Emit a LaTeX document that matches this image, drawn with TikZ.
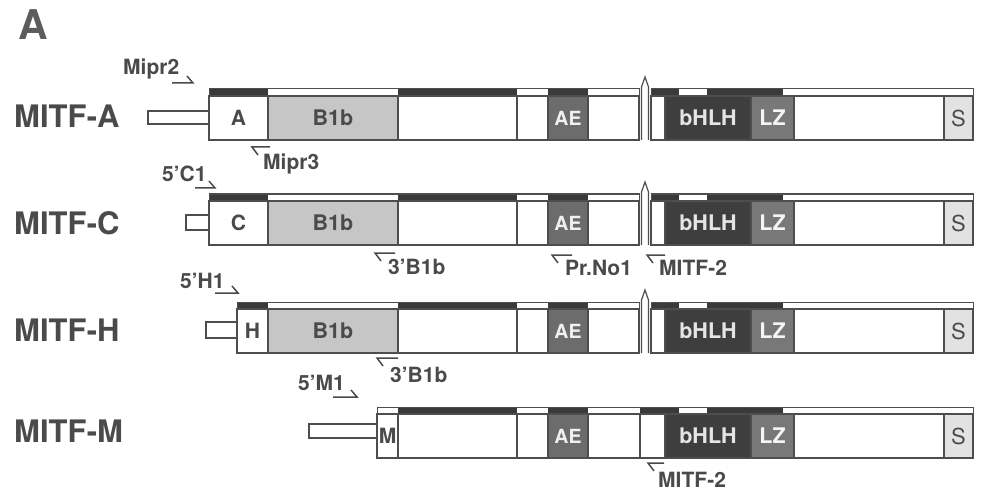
\documentclass[tikz,border=0pt]{standalone}
\usepackage{fontspec}
\setmainfont{TeX Gyre Heros}
\definecolor{ol}{HTML}{4E4E4E}
\definecolor{txt}{HTML}{4A4A4A}
\definecolor{darkbar}{HTML}{3A3A3A}
\definecolor{bonebc}{HTML}{C6C6C6}
\definecolor{aec}{HTML}{6C6C6C}
\definecolor{bhc}{HTML}{3E3E3E}
\definecolor{lzc}{HTML}{787878}
\definecolor{sc}{HTML}{E2E2E2}
\tikzset{
  seg/.style={draw=ol, line width=1.2pt, inner sep=0pt, outer sep=0pt, anchor=north west,
    text=txt, font=\bfseries\fontsize{21}{21}\selectfont},
  plain/.style={fill=white},
  bone/.style={fill=bonebc, font=\bfseries\fontsize{21.5}{21.5}\selectfont},
  aes/.style={fill=aec, text=white!94!black, font=\bfseries\fontsize{19.5}{19.5}\selectfont},
  bhs/.style={fill=bhc, text=white!90!black, font=\bfseries\fontsize{21.5}{21.5}\selectfont},
  lzs/.style={fill=lzc, text=white!96!black, font=\bfseries\fontsize{21.5}{21.5}\selectfont},
  ss/.style={fill=sc, font=\fontsize{22}{22}\selectfont},
  rowlbl/.style={anchor=base west, inner sep=0pt, text=txt, font=\bfseries\fontsize{31}{31}\selectfont},
  prlbl/.style={anchor=base west, inner sep=0pt, text=txt, font=\bfseries\fontsize{21}{21}\selectfont},
  primer/.style={draw=txt, line width=1.5pt},
  barline/.style={draw=ol, line width=1.0pt},
  darkseg/.style={fill=darkbar},
  pent/.style={draw=ol, line width=1.2pt, fill=white},
}
\newcommand\segbox[7]{\node[seg,#6,minimum width={(#3-#2)*1pt},minimum height={(#5-#4)*1pt}] (#1) at (#2,#4) {#7};}
% common right part: #1 prefix, #2 box top, #3 box bottom, #4 end of w3, #5 start of w4
\newcommand\commonright[5]{%
  \segbox{#1w1}{398}{517}{#2}{#3}{plain}{}
  \segbox{#1w2}{517}{548}{#2}{#3}{plain}{}
  \segbox{#1ae}{548}{588}{#2}{#3}{aes}{AE}
  \segbox{#1w3}{588}{#4}{#2}{#3}{plain}{}
  \segbox{#1w4}{#5}{665}{#2}{#3}{plain}{}
  \segbox{#1bh}{665}{751}{#2}{#3}{bhs}{bHLH}
  \segbox{#1lz}{751}{794}{#2}{#3}{lzs}{LZ}
  \segbox{#1w5}{794}{944}{#2}{#3}{plain}{}
  \segbox{#1s}{944}{973}{#2}{#3}{ss}{S}
}
% bar with gap: #1 bar top, #2 left x
\newcommand\gapbar[2]{%
  \fill[white] (#2,#1) rectangle (639,#1+7);
  \fill[white] (651,#1) rectangle (973,#1+7);
  \fill[darkseg] (#2,#1) rectangle (268,#1+7);
  \fill[darkseg] (398,#1) rectangle (517,#1+7);
  \fill[darkseg] (548,#1) rectangle (588,#1+7);
  \fill[darkseg] (651,#1) rectangle (679,#1+7);
  \fill[darkseg] (707,#1) rectangle (783,#1+7);
  \draw[barline] (#2,#1) rectangle (639,#1+7);
  \draw[barline] (651,#1) rectangle (973,#1+7);
}
% pentagon marker: #1 bar top, #2 bottom
\newcommand\pentmark[2]{%
  \draw[pent] (641.5,#2) -- (641.5,#1-2) -- (645,#1-12) -- (648.5,#1-2) -- (648.5,#2);
}
\newcommand\fwdprimer[3]{\draw[primer] (#1,#3) -- (#2,#3) -- ++(-6,-7);}
\newcommand\revprimer[3]{\draw[primer] (#2,#3) -- (#1,#3) -- ++(6,8);}
\begin{document}
\begin{tikzpicture}[x=1pt,y=-1pt]
\useasboundingbox[fill=white] (0,0) rectangle (983,492);
\node[anchor=base west, inner sep=0pt, text=txt!90!white, font=\bfseries\fontsize{41}{41}\selectfont] (title) at (18,40) {A};

% ---------- MITF-A ----------
\node[rowlbl] (labA) at (14,128) {MITF-A};
\gapbar{89}{209}
\segbox{aL}{148}{209}{111}{124}{plain}{}
\segbox{aX}{209}{268}{96}{140}{plain}{A}
\segbox{aB}{268}{398}{96}{140}{bone}{B1b}
\commonright{a}{96}{140}{639}{651}
\pentmark{89}{140}

% ---------- MITF-C ----------
\node[rowlbl] (labC) at (14,234) {MITF-C};
\gapbar{194}{209}
\segbox{cL}{186}{209}{215}{230}{plain}{}
\segbox{cX}{209}{268}{201}{245}{plain}{C}
\segbox{cB}{268}{398}{201}{245}{bone}{B1b}
\commonright{c}{201}{245}{639}{651}
\pentmark{194}{245}

% ---------- MITF-H ----------
\node[rowlbl] (labH) at (14,341) {MITF-H};
\gapbar{302}{237}
\segbox{hL}{206}{237}{322}{338}{plain}{}
\segbox{hX}{237}{268}{309}{353}{plain}{H}
\segbox{hB}{268}{398}{309}{353}{bone}{B1b}
\commonright{h}{309}{353}{639}{651}
\pentmark{302}{353}

% ---------- MITF-M ----------
\node[rowlbl] (labM) at (14,442) {MITF-M};
\fill[white] (377,407) rectangle (973,414);
\fill[darkseg] (398,407) rectangle (517,414);
\fill[darkseg] (548,407) rectangle (588,414);
\fill[darkseg] (640,407) rectangle (679,414);
\fill[darkseg] (707,407) rectangle (783,414);
\draw[barline] (377,407) rectangle (973,414);
\segbox{mL}{309}{377}{424}{438}{plain}{}
\segbox{mX}{377}{398}{414}{458}{plain}{M}
\commonright{m}{414}{458}{640}{640}

% ---------- primers ----------
\fwdprimer{172}{193}{83}
\node[prlbl] (pMipr2) at (123,75) {Mipr2};
\revprimer{252}{270}{147}
\node[prlbl] (pMipr3) at (263,170) {Mipr3};
\fwdprimer{195}{215}{188}
\node[prlbl] (p5C1) at (162,182) {5'C1};
\revprimer{375}{395}{253}
\node[prlbl] (p3B1bC) at (388,274) {3'B1b};
\revprimer{552}{572}{255}
\node[prlbl] (pPrNo1) at (565,275) {Pr.No1};
\revprimer{647}{665}{255}
\node[prlbl] (pMITF2C) at (659,275) {MITF-2};
\fwdprimer{215}{238}{293}
\node[prlbl] (p5H1) at (180,288) {5'H1};
\revprimer{377}{398}{358}
\node[prlbl] (p3B1bH) at (390,382) {3'B1b};
\fwdprimer{333}{357}{397}
\node[prlbl] (p5M1) at (298,390) {5'M1};
\revprimer{648}{664}{463}
\node[prlbl] (pMITF2M) at (658,487) {MITF-2};
\end{tikzpicture}
\end{document}
